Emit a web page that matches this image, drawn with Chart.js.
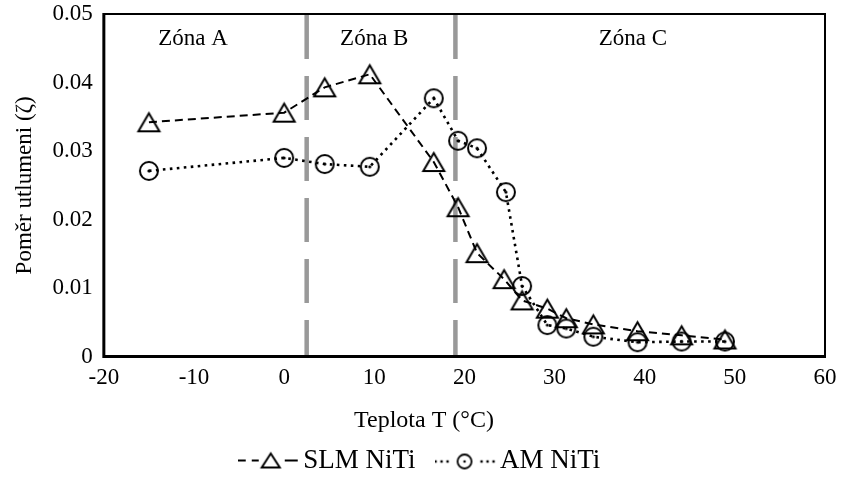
<!DOCTYPE html>
<html><head><meta charset="utf-8">
<script src="https://cdn.jsdelivr.net/npm/chart.js@4.4.1/dist/chart.umd.min.js"></script>
<style>html,body{margin:0;padding:0;background:#fff}#wrap{width:841px;height:481px}</style>
</head><body><div id="wrap"><canvas id="c" width="841" height="481"></canvas></div>
<script>
const temperatureSLM = [-15, 0, 4.5, 9.5, 16.6, 19.3, 21.4, 24.4, 26.4, 29.2, 31.3, 34.3, 39.2, 44.1, 48.9];
const dampingSLM = [0.0342, 0.0356, 0.0393, 0.0412, 0.0284, 0.0218, 0.0151, 0.0113, 0.0082, 0.0070, 0.0056, 0.0047, 0.0037, 0.0031, 0.0025];
const temperatureAM = [-15, 0, 4.5, 9.5, 16.6, 19.3, 21.4, 24.6, 26.4, 29.2, 31.3, 34.3, 39.2, 44.1, 48.9];
const dampingAM = [0.0271, 0.0290, 0.0281, 0.0277, 0.0377, 0.0315, 0.0304, 0.0240, 0.0103, 0.0046, 0.0041, 0.0029, 0.0021, 0.0022, 0.0022];
const xTickValues = [-20, -10, 0, 10, 20, 30, 40, 50, 60];
const yTickValues = [0, 0.01, 0.02, 0.03, 0.04, 0.05];
const yTickLabels = ['0', '0.01', '0.02', '0.03', '0.04', '0.05'];
const zoneBoundaries = [2.5, 19];
const zoneNames = ['Zóna A', 'Zóna B', 'Zóna C'];
const zoneNameX = [-10.1, 10, 38.7];
const zoneNameY = [0.0464, 0.0464, 0.0464];
const seriesNames = ['SLM NiTi', 'AM NiTi'];
const xTitle = 'Teplota T (°C)';
const yTitle = 'Poměr utlumeni (ζ)';

const FONT = '"Liberation Serif", "Times New Roman", serif';

function makeTriangle(w, h, lw) {
  const m = 3;
  const c = document.createElement('canvas');
  c.width = w + m * 2; c.height = h + m * 2;
  const g = c.getContext('2d');
  g.strokeStyle = '#000'; g.lineWidth = lw; g.lineJoin = 'miter';
  g.beginPath();
  g.moveTo(c.width / 2, m); g.lineTo(m + w, m + h); g.lineTo(m, m + h); g.closePath();
  g.stroke();
  return c;
}
function makeCircle(d, lw, dot) {
  const m = 2;
  const c = document.createElement('canvas');
  c.width = d + m * 2; c.height = d + m * 2;
  const g = c.getContext('2d');
  g.strokeStyle = '#000'; g.fillStyle = '#000'; g.lineWidth = lw;
  g.beginPath(); g.arc(c.width / 2, c.height / 2, d / 2 - lw / 2, 0, Math.PI * 2); g.stroke();
  g.beginPath(); g.arc(c.width / 2, c.height / 2, dot, 0, Math.PI * 2); g.fill();
  return c;
}
function makeLegendSLM() {
  const c = document.createElement('canvas'); c.width = 62; c.height = 22;
  const g = c.getContext('2d');
  g.strokeStyle = '#000'; g.lineWidth = 2;
  const cy = 11;
  [[0, 8], [14, 21], [47, 60]].forEach(s => { g.beginPath(); g.moveTo(s[0], cy); g.lineTo(s[1], cy); g.stroke(); });
  g.beginPath(); g.moveTo(33, 4); g.lineTo(42, 18); g.lineTo(24, 18); g.closePath(); g.stroke();
  return c;
}
function makeLegendAM() {
  const c = document.createElement('canvas'); c.width = 62; c.height = 22;
  const g = c.getContext('2d');
  g.fillStyle = '#000'; g.strokeStyle = '#000'; g.lineWidth = 1.8;
  const cy = 12;
  [1, 7, 13, 47, 53, 59].forEach(x => g.fillRect(x - 1.2, cy - 1.2, 2.4, 2.4));
  g.beginPath(); g.arc(30, cy, 7, 0, Math.PI * 2); g.stroke();
  g.beginPath(); g.arc(30, cy, 1.3, 0, Math.PI * 2); g.fill();
  return c;
}
const triMarker = makeTriangle(21, 18, 2);
const circMarker = makeCircle(20, 2, 1.6);
const legendImages = [makeLegendSLM(), makeLegendAM()];

const decorPlugin = {
  id: 'decor',
  beforeDatasetsDraw(chart) {
    const {ctx, chartArea: a, scales: {x, y}} = chart;
    ctx.save();
    ctx.strokeStyle = '#999999'; ctx.lineWidth = 4.5; ctx.setLineDash([44, 17]);
    zoneBoundaries.forEach(v => {
      const px = x.getPixelForValue(v);
      ctx.beginPath(); ctx.moveTo(px, a.top + 1); ctx.lineTo(px, a.bottom); ctx.stroke();
    });
    ctx.setLineDash([]);
    ctx.fillStyle = '#000'; ctx.font = '23px ' + FONT;
    ctx.textAlign = 'center'; ctx.textBaseline = 'middle';
    zoneNames.forEach((t, i) => ctx.fillText(t, x.getPixelForValue(zoneNameX[i]), y.getPixelForValue(zoneNameY[i])));
    ctx.restore();
  },
  afterDraw(chart) {
    const {ctx, chartArea: a} = chart;
    ctx.save();
    ctx.strokeStyle = '#000';
    ctx.lineWidth = 2;
    ctx.beginPath(); ctx.moveTo(a.left, a.top); ctx.lineTo(a.right, a.top); ctx.lineTo(a.right, a.bottom); ctx.stroke();
    ctx.lineWidth = 3;
    ctx.beginPath(); ctx.moveTo(a.left, a.top - 1); ctx.lineTo(a.left, a.bottom); ctx.lineTo(a.right + 1, a.bottom); ctx.stroke();
    ctx.restore();
  }
};

const toPoints = (xs, ys) => xs.map((v, i) => ({x: v, y: ys[i]}));

new Chart(document.getElementById('c'), {
  type: 'scatter',
  data: {
    datasets: [
      {
        label: seriesNames[0], data: toPoints(temperatureSLM, dampingSLM), showLine: true,
        borderColor: '#000', borderWidth: 2, borderDash: [8, 5], tension: 0,
        pointStyle: triMarker, pointRadius: 10, pointHoverRadius: 10, clip: false
      },
      {
        label: seriesNames[1], data: toPoints(temperatureAM, dampingAM), showLine: true,
        borderColor: '#000', borderWidth: 2.6, borderDash: [2.6, 4.4], tension: 0,
        pointStyle: circMarker, pointRadius: 10, pointHoverRadius: 10, clip: false
      }
    ]
  },
  plugins: [decorPlugin],
  options: {
    responsive: false, animation: false, events: [],
    layout: {padding: {left: 9, right: 2, top: 1, bottom: -3}},
    scales: {
      x: {
        type: 'linear', min: -20, max: 60,
        afterBuildTicks: s => { s.ticks = xTickValues.map(v => ({value: v})); },
        afterFit: s => { s.paddingRight = 16; },
        ticks: {color: '#000', font: {family: FONT, size: 23}, padding: 8, maxRotation: 0, autoSkip: false, callback: v => String(v)},
        grid: {display: false, drawTicks: false}, border: {display: false}
      },
      y: {
        type: 'linear', min: 0, max: 0.05,
        afterBuildTicks: s => { s.ticks = yTickValues.map(v => ({value: v})); },
        afterFit: s => { s.paddingTop = 14; s.paddingBottom = 13; },
        ticks: {color: '#000', font: {family: FONT, size: 23}, padding: 11, autoSkip: false,
          callback: v => { const i = yTickValues.findIndex(t => Math.abs(t - v) < 1e-9); return i >= 0 ? yTickLabels[i] : ''; }},
        grid: {display: false, drawTicks: false}, border: {display: false},
        title: {display: true, text: yTitle, color: '#000', font: {family: FONT, size: 23}, padding: {top: 2, bottom: 3}}
      }
    },
    plugins: {
      tooltip: {enabled: false},
      title: {display: true, text: xTitle, position: 'bottom', weight: 500, color: '#000',
        font: {family: FONT, size: 24, weight: 'normal'}, padding: {top: 6, bottom: -17}},
      legend: {
        display: true, position: 'bottom', weight: 1000,
        labels: {
          usePointStyle: true, pointStyleWidth: 42, padding: 29, color: '#000',
          font: {family: FONT, size: 27},
          generateLabels: () => seriesNames.map((n, i) => ({
            text: n, pointStyle: legendImages[i], datasetIndex: i, hidden: false,
            fillStyle: '#000', strokeStyle: '#000', lineWidth: 0, fontColor: '#000'
          }))
        }
      }
    }
  }
});
</script></body></html>
